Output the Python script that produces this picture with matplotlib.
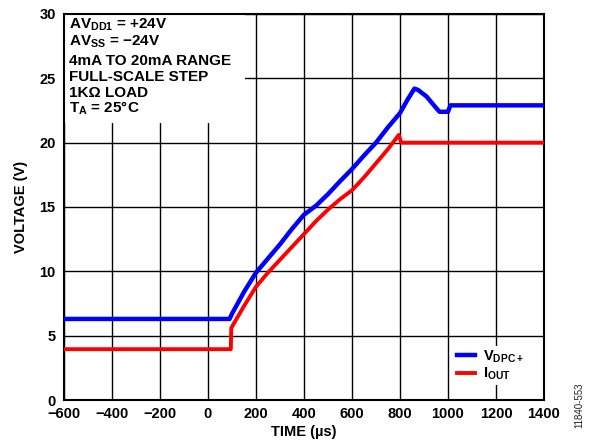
import matplotlib
matplotlib.use("Agg")
import matplotlib.pyplot as plt
from matplotlib.patches import Rectangle

# ---- data ----
vdpc_t = [-600, 90, 100, 150, 200, 250, 300, 350, 400, 450, 500, 550, 600, 650, 700,
          750, 800, 830, 860, 875, 910, 955, 965, 1000, 1010, 1400]
vdpc_v = [6.3, 6.3, 6.7, 8.4, 9.9, 11.0, 12.1, 13.3, 14.4, 15.1, 16.0, 17.0, 17.95, 19.0, 20.0,
          21.2, 22.3, 23.3, 24.2, 24.1, 23.6, 22.6, 22.4, 22.4, 22.9, 22.9]
iout_t = [-600, 95, 97, 150, 200, 250, 300, 350, 400, 450, 500, 550, 600, 650, 700,
          750, 795, 805, 1400]
iout_v = [3.95, 3.95, 5.6, 7.3, 8.8, 9.9, 10.9, 11.9, 12.9, 13.9, 14.8, 15.6, 16.3, 17.3, 18.4,
          19.5, 20.6, 20.0, 20.0]
x_ticks = [-600, -400, -200, 0, 200, 400, 600, 800, 1000, 1200, 1400]
y_ticks = [0, 5, 10, 15, 20, 25, 30]
info_lines = [r"AV$_{\mathrm{DD1}}$ = +24V",
              r"AV$_{\mathrm{SS}}$ = " + "\u221224V",
              "4mA TO 20mA RANGE",
              "FULL-SCALE STEP",
              "1K\u03a9 LOAD",
              r"T$_{\mathrm{A}}$ = 25°C"]
labels = [r"V$_{\mathrm{DPC+}}$", r"I$_{\mathrm{OUT}}$"]

plt.rcParams["font.family"] = ["Liberation Sans", "DejaVu Sans"]
plt.rcParams["font.weight"] = "bold"
plt.rcParams["mathtext.fontset"] = "custom"
plt.rcParams["mathtext.rm"] = "Liberation Sans:bold"
plt.rcParams["mathtext.bf"] = "Liberation Sans:bold"
plt.rcParams["mathtext.it"] = "Liberation Sans:bold"

W, H = 589, 447
fig = plt.figure(figsize=(W / 100, H / 100), dpi=100)
L, R, T, B = 64, 544, 14, 400
ax = fig.add_axes([L / W, (H - B) / H, (R - L) / W, (B - T) / H])

ax.plot(vdpc_t, vdpc_v, color="#0000ff", lw=3.2, zorder=4, label=labels[0])
ax.plot(iout_t, iout_v, color="#ff0000", lw=2.8, zorder=3, label=labels[1])

ax.set_xlim(-600, 1400)
ax.set_ylim(0, 30)
ax.set_xticks(x_ticks)
ax.set_yticks(y_ticks)
ax.grid(True, color="black", lw=1.0, zorder=1)
ax.set_axisbelow(True)
ax.tick_params(axis="x", length=0, labelsize=10.5, pad=5)
ax.tick_params(axis="y", length=0, labelsize=10.5, pad=6)
for lab in ax.get_xticklabels() + ax.get_yticklabels():
    lab.set_fontweight("bold")
for s in ax.spines.values():
    s.set_linewidth(1.5)

ax.set_xlabel("TIME (µs)", fontsize=10.5, fontweight="bold", labelpad=3)
ax.set_ylabel("VOLTAGE (V)", fontsize=10.5, fontweight="bold", labelpad=8)

# white box behind the condition text
ax.add_patch(Rectangle((0, 1 - (123 - T) / (B - T)), (245 - L) / (R - L), (123 - T) / (B - T),
                       transform=ax.transAxes, facecolor="white", edgecolor="none", zorder=2))
baselines = [29, 46, 65, 81, 97, 113]
for txt, by in zip(info_lines, baselines):
    ax.text((69 - L) / (R - L), (B - by) / (B - T), txt, transform=ax.transAxes,
            fontsize=11, fontweight="bold", va="baseline", ha="left", zorder=5)

leg = ax.legend(loc="lower right", bbox_to_anchor=((527 - L) / (R - L), (B - 385) / (B - T)),
                fontsize=10.5, frameon=True, fancybox=False, edgecolor="none",
                facecolor="white", framealpha=1, handlelength=1.2, handletextpad=0.6,
                labelspacing=0.05, borderpad=0.2, borderaxespad=0)
leg.set_zorder(6)
for t in leg.get_texts():
    t.set_fontweight("bold")

fig.text(579 / W, 1 - 405 / H, "11840-553", rotation=90, fontsize=7, fontweight="normal",
         ha="center", va="center", color="#222222")

fig.savefig("out.png", dpi=100)
